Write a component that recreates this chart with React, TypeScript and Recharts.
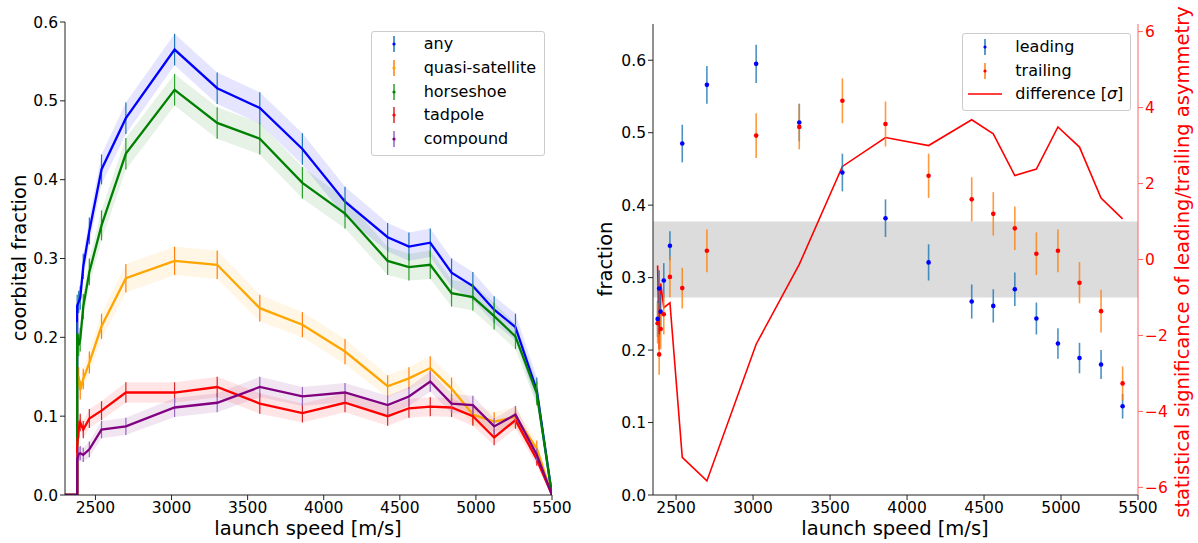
import React from "react";
import {
  ComposedChart,
  Line,
  Area,
  XAxis,
  YAxis,
  ErrorBar,
  ReferenceArea,
} from "recharts";

const FONT = "'DejaVu Sans', Verdana, sans-serif";

// launch speed bins [m/s]
const speeds = [2380, 2390, 2400, 2420, 2460, 2540, 2700, 3020, 3300, 3580, 3860, 4140, 4420, 4560, 4700, 4840, 4980, 5120, 5260, 5400];

// left panel: coorbital fraction per class
const anyFrac = [0.24, 0.245, 0.25, 0.29, 0.335, 0.413, 0.478, 0.565, 0.516, 0.491, 0.439, 0.372, 0.327, 0.315, 0.32, 0.282, 0.265, 0.235, 0.213, 0.133];
const anyErr = [0.014, 0.014, 0.015, 0.016, 0.017, 0.019, 0.02, 0.02, 0.02, 0.02, 0.02, 0.019, 0.018, 0.018, 0.018, 0.018, 0.018, 0.017, 0.017, 0.016];
const qsFrac = [0.145, 0.15, 0.133, 0.147, 0.168, 0.214, 0.275, 0.297, 0.292, 0.237, 0.216, 0.182, 0.138, 0.148, 0.161, 0.135, 0.102, 0.093, 0.099, 0.059];
const qsErr = [0.012, 0.012, 0.012, 0.013, 0.014, 0.016, 0.018, 0.018, 0.018, 0.017, 0.016, 0.016, 0.014, 0.014, 0.015, 0.014, 0.013, 0.012, 0.013, 0.01];
const hsFrac = [0.205, 0.19, 0.197, 0.239, 0.283, 0.342, 0.433, 0.514, 0.472, 0.452, 0.396, 0.357, 0.297, 0.289, 0.292, 0.256, 0.251, 0.227, 0.201, 0.129];
const hsErr = [0.014, 0.014, 0.015, 0.016, 0.017, 0.019, 0.02, 0.02, 0.02, 0.02, 0.02, 0.019, 0.018, 0.017, 0.018, 0.017, 0.017, 0.017, 0.016, 0.015];
const tpFrac = [0.062, 0.083, 0.092, 0.083, 0.097, 0.107, 0.13, 0.13, 0.137, 0.116, 0.104, 0.117, 0.1, 0.11, 0.112, 0.111, 0.1, 0.073, 0.095, 0.045];
const tpErr = [0.01, 0.011, 0.011, 0.011, 0.012, 0.012, 0.013, 0.013, 0.013, 0.013, 0.012, 0.012, 0.012, 0.012, 0.012, 0.012, 0.012, 0.01, 0.011, 0.008];
const cpFrac = [0.045, 0.052, 0.053, 0.051, 0.058, 0.083, 0.087, 0.111, 0.117, 0.137, 0.125, 0.13, 0.114, 0.125, 0.144, 0.116, 0.114, 0.087, 0.102, 0.051];
const cpErr = [0.008, 0.009, 0.009, 0.009, 0.01, 0.011, 0.011, 0.012, 0.012, 0.013, 0.012, 0.012, 0.012, 0.012, 0.013, 0.012, 0.012, 0.01, 0.011, 0.008];

// right panel: leading / trailing fraction and their difference
const leadFrac = [0.243, 0.285, 0.253, 0.296, 0.344, 0.485, 0.566, 0.595, 0.514, 0.445, 0.382, 0.321, 0.267, 0.261, 0.284, 0.2435, 0.209, 0.189, 0.18, 0.1225];
const leadErr = [0.025, 0.025, 0.024, 0.024, 0.02, 0.026, 0.026, 0.0265, 0.026, 0.026, 0.026, 0.025, 0.0235, 0.023, 0.023, 0.022, 0.021, 0.021, 0.02, 0.017];
const trailFrac = [0.237, 0.194, 0.229, 0.2495, 0.301, 0.2855, 0.337, 0.496, 0.508, 0.544, 0.512, 0.4405, 0.408, 0.388, 0.368, 0.333, 0.337, 0.293, 0.2537, 0.154];
const trailErr = [0.028, 0.028, 0.028, 0.028, 0.028, 0.028, 0.0295, 0.031, 0.031, 0.031, 0.031, 0.0305, 0.0305, 0.03, 0.03, 0.0295, 0.0295, 0.0285, 0.0295, 0.0235];
const diffSigma = [-0.16, -2.37, -0.63, -1.27, -1.14, -5.21, -5.83, -2.23, -0.13, 2.45, 3.21, 3.0, 3.68, 3.31, 2.21, 2.38, 3.49, 2.96, 1.62, 1.07];

const speedTicks = [2500, 3000, 3500, 4000, 4500, 5000, 5500];
const fracTicks = [0, 0.1, 0.2, 0.3, 0.4, 0.5, 0.6];
const sigmaTicks = [-6, -4, -2, 0, 2, 4, 6];

const classes = [
  { key: "any", label: "any", color: "#0000ff", ecolor: "#1f77b4", vals: anyFrac, errs: anyErr },
  { key: "qs", label: "quasi-satellite", color: "#ffa500", ecolor: "#ff7f0e", vals: qsFrac, errs: qsErr },
  { key: "hs", label: "horseshoe", color: "#008000", ecolor: "#2ca02c", vals: hsFrac, errs: hsErr },
  { key: "tp", label: "tadpole", color: "#ff0000", ecolor: "#d62728", vals: tpFrac, errs: tpErr },
  { key: "cp", label: "compound", color: "#800080", ecolor: "#9467bd", vals: cpFrac, errs: cpErr },
];

// the curves drop to zero outside the sampled range
const leftX = [2300, speeds[0], ...speeds, 5500];
const leftData = leftX.map((x, i) => {
  const row: Record<string, any> = { x };
  classes.forEach((c) => {
    const v = i < 2 || i === leftX.length - 1 ? 0 : c.vals[i - 2];
    const e = i < 2 || i === leftX.length - 1 ? 0 : c.errs[i - 2];
    row[c.key] = v;
    row[c.key + "Err"] = e;
    row[c.key + "Band"] = [v - e, v + e];
  });
  return row;
});

const rightData = speeds.map((x, i) => ({
  x,
  lead: leadFrac[i],
  leadErr: leadErr[i],
  trail: trailFrac[i],
  trailErr: trailErr[i],
  diff: diffSigma[i],
}));

const tickStyle = { fontSize: 15.5, fill: "#000", fontFamily: FONT };
const spine = { stroke: "#222", strokeWidth: 1 };
const minus = (v: number) => (v < 0 ? `\u2212${-v}` : `${v}`);

function Title({ text, x, y, rotate, color }: { text: string; x: number; y: number; rotate?: boolean; color?: string }) {
  return (
    <div
      style={{
        position: "absolute",
        left: x,
        top: y,
        transform: `translate(-50%, -50%)${rotate ? " rotate(-90deg)" : ""}`,
        whiteSpace: "nowrap",
        fontSize: 19.5,
        lineHeight: 1,
        color: color || "#000",
        fontFamily: FONT,
      }}
    >
      {text}
    </div>
  );
}

function ErrMarker({ color, ecolor }: { color: string; ecolor: string }) {
  return (
    <svg width={10} height={18} style={{ position: "absolute", left: -5, top: -9 }}>
      <line x1={5} x2={5} y1={1} y2={17} stroke={ecolor} strokeWidth={1.5} />
      <circle cx={5} cy={9} r={1.6} fill={color} />
    </svg>
  );
}

const legendBox: React.CSSProperties = {
  position: "absolute",
  background: "rgba(255,255,255,0.85)",
  border: "1px solid #ccc",
  borderRadius: 3,
  fontFamily: FONT,
  fontSize: 16,
  color: "#000",
};

function LeftLegend() {
  return (
    <div style={{ ...legendBox, left: 371, top: 31, width: 172, height: 123 }}>
      {classes.map((c, i) => (
        <div key={c.key} style={{ position: "absolute", top: 12.3 + 23.7 * i, left: 0 }}>
          <div style={{ position: "absolute", left: 22.3, top: 0 }}>
            <ErrMarker color={c.color} ecolor={c.ecolor} />
          </div>
          <div style={{ position: "absolute", left: 51.7, top: -10, whiteSpace: "nowrap", lineHeight: "19px" }}>{c.label}</div>
        </div>
      ))}
    </div>
  );
}

function RightLegend() {
  const rows = [
    { label: "leading", color: "#0000ff", ecolor: "#1f77b4" },
    { label: "trailing", color: "#ff0000", ecolor: "#ff7f0e" },
  ];
  return (
    <div style={{ ...legendBox, left: 962, top: 33, width: 167, height: 76 }}>
      {rows.map((r, i) => (
        <div key={r.label} style={{ position: "absolute", top: 12.7 + 23.8 * i, left: 0 }}>
          <div style={{ position: "absolute", left: 22, top: 0 }}>
            <ErrMarker color={r.color} ecolor={r.ecolor} />
          </div>
          <div style={{ position: "absolute", left: 52.3, top: -10, whiteSpace: "nowrap", lineHeight: "19px" }}>{r.label}</div>
        </div>
      ))}
      <div style={{ position: "absolute", top: 60.3, left: 0 }}>
        <svg width={40} height={4} style={{ position: "absolute", left: 4.7, top: -2 }}>
          <line x1={0} x2={34} y1={2} y2={2} stroke="#ff0000" strokeWidth={1.5} />
        </svg>
        <div style={{ position: "absolute", left: 52.3, top: -10, whiteSpace: "nowrap", lineHeight: "19px" }}>
          difference [<i>σ</i>]
        </div>
      </div>
    </div>
  );
}

function LeftPanel() {
  return (
    <ComposedChart width={600} height={543} data={leftData} margin={{ top: 22, right: 48, bottom: 0, left: 0 }}>
      <XAxis
        dataKey="x"
        type="number"
        domain={[2300, 5500]}
        ticks={speedTicks}
        allowDataOverflow
        height={48}
        tickSize={5}
        tick={tickStyle}
        axisLine={spine}
        tickLine={{ stroke: "#222" }}
      />
      <XAxis xAxisId="top" orientation="top" type="number" domain={[0, 1]} height={0} tick={false} tickLine={false} axisLine={spine} />
      <YAxis
        type="number"
        domain={[0, 0.6]}
        ticks={fracTicks}
        allowDataOverflow
        width={65}
        tickSize={5}
        tick={tickStyle}
        tickFormatter={(v: number) => v.toFixed(1)}
        axisLine={spine}
        tickLine={{ stroke: "#222" }}
      />
      <YAxis yAxisId="frame" orientation="right" type="number" domain={[0, 1]} width={0} tick={false} tickLine={false} axisLine={spine} />
      {classes.map((c) => (
        <Area
          key={c.key + "band"}
          type="linear"
          dataKey={c.key + "Band"}
          stroke="none"
          fill={c.color}
          fillOpacity={0.1}
          isAnimationActive={false}
          activeDot={false}
        />
      ))}
      {classes.map((c) => (
        <Line
          key={c.key}
          type="linear"
          dataKey={c.key}
          stroke={c.color}
          strokeWidth={2.3}
          dot={false}
          activeDot={false}
          isAnimationActive={false}
        >
          <ErrorBar dataKey={c.key + "Err"} direction="y" width={0} stroke={c.ecolor} strokeWidth={1.2} />
        </Line>
      ))}
    </ComposedChart>
  );
}

function RightPanel() {
  return (
    <ComposedChart width={598} height={543} data={rightData} margin={{ top: 24, right: 0, bottom: 0, left: 0 }}>
      <XAxis
        dataKey="x"
        type="number"
        domain={[2350, 5500]}
        ticks={speedTicks}
        allowDataOverflow
        height={48}
        tickSize={5}
        tick={tickStyle}
        axisLine={spine}
        tickLine={{ stroke: "#222" }}
      />
      <XAxis xAxisId="top" orientation="top" type="number" domain={[0, 1]} height={0} tick={false} tickLine={false} axisLine={spine} />
      <YAxis
        yAxisId="frac"
        type="number"
        domain={[0, 0.65]}
        ticks={fracTicks}
        allowDataOverflow
        width={53}
        tickSize={5}
        tick={tickStyle}
        tickFormatter={(v: number) => v.toFixed(1)}
        axisLine={spine}
        tickLine={{ stroke: "#222" }}
      />
      <YAxis
        yAxisId="sigma"
        orientation="right"
        type="number"
        domain={[-6.2, 6.2]}
        ticks={sigmaTicks}
        allowDataOverflow
        width={60}
        tickSize={5}
        tick={{ ...tickStyle, fill: "#ff0000" }}
        tickFormatter={minus}
        axisLine={{ stroke: "#ff6666", strokeWidth: 1 }}
        tickLine={{ stroke: "#ff6666" }}
      />
      <ReferenceArea yAxisId="sigma" y1={-1} y2={1} fill="#dcdcdc" fillOpacity={1} stroke="none" />
      <Line
        yAxisId="sigma"
        type="linear"
        dataKey="diff"
        stroke="#ff0000"
        strokeWidth={1.6}
        dot={false}
        activeDot={false}
        isAnimationActive={false}
      />
      <Line
        yAxisId="frac"
        dataKey="lead"
        stroke="none"
        dot={{ r: 2.3, fill: "#0000ff", stroke: "none" }}
        activeDot={false}
        isAnimationActive={false}
      >
        <ErrorBar dataKey="leadErr" direction="y" width={0} stroke="#1f77b4" strokeOpacity={0.8} strokeWidth={1.6} />
      </Line>
      <Line
        yAxisId="frac"
        dataKey="trail"
        stroke="none"
        dot={{ r: 2.3, fill: "#ff0000", stroke: "none" }}
        activeDot={false}
        isAnimationActive={false}
      >
        <ErrorBar dataKey="trailErr" direction="y" width={0} stroke="#ff7f0e" strokeOpacity={0.8} strokeWidth={1.6} />
      </Line>
    </ComposedChart>
  );
}

export default function App() {
  return (
    <div style={{ position: "absolute", left: 0, top: 0, width: 1198, height: 543, background: "#fff", overflow: "hidden" }}>
      <div style={{ position: "absolute", left: 0, top: 0 }}>
        <LeftPanel />
      </div>
      <div style={{ position: "absolute", left: 600, top: 0 }}>
        <RightPanel />
      </div>
      <LeftLegend />
      <RightLegend />
      <Title text="coorbital fraction" x={20} y={258} rotate />
      <Title text="launch speed [m/s]" x={308} y={529} />
      <Title text="fraction" x={606} y={259} rotate />
      <Title text="launch speed [m/s]" x={895} y={529} />
      <Title text="statistical significance of leading/trailing asymmetry" x={1183} y={262} rotate color="#ff0000" />
    </div>
  );
}
